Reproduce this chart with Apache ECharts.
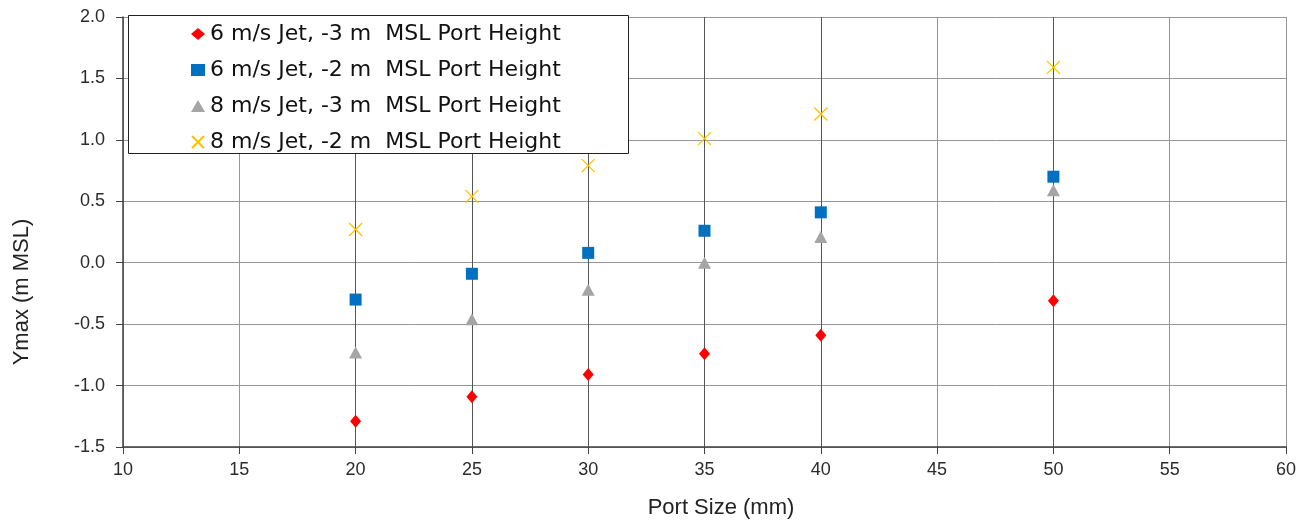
<!DOCTYPE html>
<html>
<head>
<meta charset="utf-8">
<script src="https://cdn.jsdelivr.net/npm/echarts@6/dist/echarts.min.js"></script>
<style>
  html, body { margin: 0; padding: 0; background: #fff; }
  #chart { width: 1309px; height: 523px; }
</style>
</head>
<body>
<div id="chart"></div>
<script>
// Port sizes tested (mm)
const portSizes = [20, 25, 30, 35, 40, 50];

// Maximum plume rise, Ymax (m MSL), per jet velocity / port height case
const jet6PortM3 = [-1.29, -1.09, -0.91, -0.74, -0.59, -0.31];
const jet6PortM2 = [-0.30, -0.09, 0.08, 0.26, 0.41, 0.70];
const jet8PortM3 = [-0.73, -0.46, -0.22, 0.00, 0.21, 0.59];
const jet8PortM2 = [0.27, 0.54, 0.79, 1.01, 1.21, 1.59];

const seriesNames = [
  '6 m/s Jet, -3 m  MSL Port Height',
  '6 m/s Jet, -2 m  MSL Port Height',
  '8 m/s Jet, -3 m  MSL Port Height',
  '8 m/s Jet, -2 m  MSL Port Height'
];

const xTitle = 'Port Size (mm)';
const yTitle = 'Ymax (m MSL)';

const pairs = ys => portSizes.map((x, i) => [x, ys[i]]);
const crossPath = 'path://M0,0L10,10M10,0L0,10';

const chart = echarts.init(document.getElementById('chart'), null, { renderer: 'canvas' });

chart.setOption({
  animation: false,
  backgroundColor: '#ffffff',
  textStyle: { fontFamily: 'Liberation Sans, Arial, sans-serif' },
  grid: { left: 123, right: 23, top: 17, bottom: 76, containLabel: false },
  xAxis: {
    type: 'value', min: 10, max: 60, interval: 5,
    axisLine: { show: true, onZero: false, lineStyle: { color: '#404040', width: 1.5 } },
    axisTick: { show: true, length: 7, lineStyle: { color: '#404040' } },
    axisLabel: { color: '#2b2b2b', fontSize: 18, margin: 14 },
    splitLine: { show: true, lineStyle: { color: '#969696', width: 1 } }
  },
  yAxis: {
    type: 'value', min: -1.5, max: 2.0, interval: 0.5,
    axisLine: { show: true, onZero: false, lineStyle: { color: '#404040', width: 1.5 } },
    axisTick: { show: true, length: 7, lineStyle: { color: '#404040' } },
    axisLabel: { color: '#2b2b2b', fontSize: 18, margin: 18, formatter: v => v.toFixed(1) },
    splitLine: { show: true, lineStyle: { color: '#969696', width: 1 } }
  },
  legend: {
    orient: 'vertical',
    left: 191, top: 23,
    itemWidth: 14, itemHeight: 12, itemGap: 14,
    padding: 0,
    backgroundColor: 'transparent',
    textStyle: { color: '#111', fontSize: 22, lineHeight: 20, fontFamily: 'DejaVu Sans, sans-serif' },
    data: seriesNames
  },
  graphic: [
    {
      type: 'rect', left: 128, top: 15, z: 3,
      shape: { width: 500, height: 138 },
      style: { fill: '#ffffff', stroke: '#222', lineWidth: 1 }
    },
    {
      type: 'text', x: 22, y: 292, rotation: Math.PI / 2, z: 5,
      style: { text: yTitle, fill: '#222', font: '22px "Liberation Sans", Arial, sans-serif', align: 'center', verticalAlign: 'middle' }
    },
    {
      type: 'text', x: 721, y: 508, z: 5,
      style: { text: xTitle, fill: '#222', font: '22px "Liberation Sans", Arial, sans-serif', align: 'center', verticalAlign: 'middle' }
    }
  ],
  series: [
    {
      // vertical guide lines through each tested port size, drawn beneath the markers
      name: 'guides', type: 'scatter', z: 1, data: [],
      markLine: {
        z: 1,
        silent: true, symbol: 'none', label: { show: false },
        lineStyle: { color: '#555', width: 1, type: 'solid' },
        data: portSizes.map(x => ({ xAxis: x }))
      }
    },
    {
      name: seriesNames[0], type: 'scatter', z: 2,
      symbol: 'diamond', symbolSize: [11, 13],
      itemStyle: { color: '#ff0000', opacity: 1 },
      data: pairs(jet6PortM3)
    },
    {
      name: seriesNames[1], type: 'scatter', z: 2,
      symbol: 'rect', symbolSize: 12,
      itemStyle: { color: '#0070c0', opacity: 1 },
      data: pairs(jet6PortM2)
    },
    {
      name: seriesNames[2], type: 'scatter', z: 2,
      symbol: 'triangle', symbolSize: [13, 12],
      itemStyle: { color: '#a5a5a5', opacity: 1 },
      data: pairs(jet8PortM3)
    },
    {
      name: seriesNames[3], type: 'scatter', z: 2,
      symbol: crossPath, symbolSize: 13,
      itemStyle: { color: 'transparent', borderColor: '#ffc000', borderWidth: 1.3, opacity: 1 },
      data: pairs(jet8PortM2)
    }
  ]
});
</script>
</body>
</html>
